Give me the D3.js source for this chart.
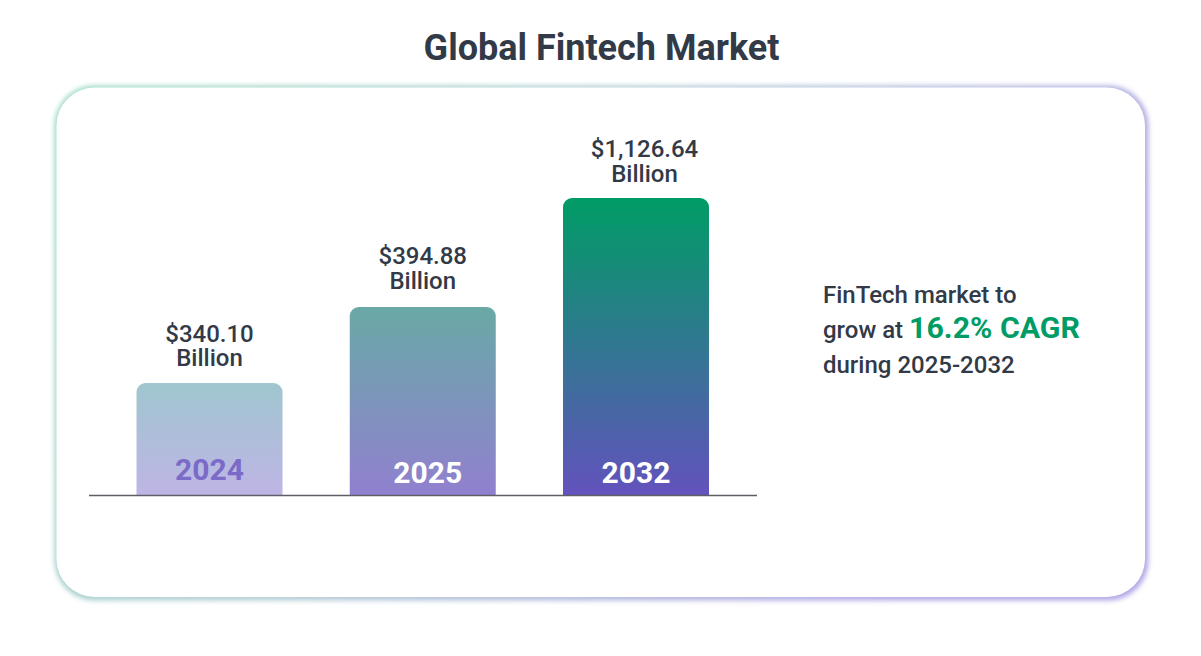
<!DOCTYPE html>
<html>
<head>
<meta charset="utf-8">
<script src="https://cdn.jsdelivr.net/npm/d3@7/dist/d3.min.js"></script>
<style>
html,body{margin:0;padding:0;background:#fff}
svg{display:block}
text{font-family:Roboto,sans-serif}
</style>
</head>
<body>
<svg id="c" width="1201" height="656"></svg>
<script>
const title = "Global Fintech Market";
const years = ["2024", "2025", "2032"];
const values = [340.10, 394.88, 1126.64];
const valueLabels = ["$340.10", "$394.88", "$1,126.64"];
const unitLabel = "Billion";
const topColors = ["#a0c6cf", "#69a9a6", "#009c65"];
const bottomColors = ["#beb5e5", "#9180cf", "#6352bd"];
const yearColors = ["#7a6bc9", "#ffffff", "#ffffff"];

const svg = d3.select("#c");
const defs = svg.append("defs");
const ink = "#323a48";

// card edge gradient + glow
const edge = defs.append("linearGradient").attr("id", "edge")
  .attr("x1", "0").attr("y1", "0").attr("x2", "1").attr("y2", "0.35");
edge.append("stop").attr("offset", "0").attr("stop-color", "#9bdcc2");
edge.append("stop").attr("offset", "0.5").attr("stop-color", "#b4ccd6");
edge.append("stop").attr("offset", "1").attr("stop-color", "#b2a8e6");
const blur = defs.append("filter").attr("id", "glow")
  .attr("x", "-5%").attr("y", "-5%").attr("width", "110%").attr("height", "110%");
blur.append("feGaussianBlur").attr("stdDeviation", 2.4);

svg.append("rect").attr("x", 54.5).attr("y", 85.5).attr("width", 1094).attr("height", 515)
  .attr("rx", 40).attr("fill", "url(#edge)").attr("filter", "url(#glow)");
svg.append("rect").attr("x", 56.5).attr("y", 87.5).attr("width", 1088.5).attr("height", 509.5)
  .attr("rx", 38).attr("fill", "#fff");

// title
svg.append("text").attr("x", 601.5).attr("y", 60).attr("text-anchor", "middle")
  .attr("font-size", 36).attr("font-weight", 700).attr("fill", ink).text(title);

// scales: the source's bars are not drawn to a linear scale, hence the piecewise range
const baseline = 495;
const x = d3.scalePoint().domain(years).range([209.5, 636]);
const y = d3.scaleLinear().domain([0, values[0], values[1], values[2]]).range([baseline, 383, 307, 198]);
const barW = 146, r = 9;

years.forEach((yr, i) => {
  const g = defs.append("linearGradient").attr("id", "bar" + i)
    .attr("x1", 0).attr("y1", 0).attr("x2", 0).attr("y2", 1);
  g.append("stop").attr("offset", 0).attr("stop-color", topColors[i]);
  g.append("stop").attr("offset", 1).attr("stop-color", bottomColors[i]);
});

const barPath = (d, i) => {
  const cx = x(years[i]), l = cx - barW / 2, t = y(d), w = barW;
  const p = d3.path();
  p.moveTo(l, baseline);
  p.lineTo(l, t + r);
  p.arcTo(l, t, l + r, t, r);
  p.lineTo(l + w - r, t);
  p.arcTo(l + w, t, l + w, t + r, r);
  p.lineTo(l + w, baseline);
  p.closePath();
  return p.toString();
};

svg.append("g").selectAll("path").data(values).join("path")
  .attr("d", barPath)
  .attr("fill", (d, i) => `url(#bar${i})`);

// baseline
svg.append("line").attr("x1", 89).attr("x2", 757).attr("y1", baseline + 0.5).attr("y2", baseline + 0.5)
  .attr("stroke", "#5c5f66").attr("stroke-width", 1.3);

// value labels
const labelDx = [0, 0, 8.5];
const labels = svg.append("g").selectAll("g").data(values).join("g");
labels.append("text")
  .attr("x", (d, i) => x(years[i]) + labelDx[i])
  .attr("y", (d, i) => y(d) - [41.5, 43, 41][i])
  .attr("text-anchor", "middle").attr("font-size", 24).attr("font-weight", 500)
  .attr("fill", ink).text((d, i) => valueLabels[i]);
labels.append("text")
  .attr("x", (d, i) => x(years[i]) + labelDx[i])
  .attr("y", (d, i) => y(d) - [17, 18, 16][i])
  .attr("text-anchor", "middle").attr("font-size", 24).attr("font-weight", 500)
  .attr("fill", ink).text(unitLabel);

// year labels
const yearDx = [0, 5, 0];
const yearY = [480, 483, 483];
svg.append("g").selectAll("text").data(years).join("text")
  .attr("x", (d, i) => x(d) + yearDx[i])
  .attr("y", (d, i) => yearY[i])
  .attr("text-anchor", "middle").attr("font-size", 30).attr("font-weight", 700)
  .attr("fill", (d, i) => yearColors[i]).text(d => d);

// callout
const callout = svg.append("g").attr("fill", ink).attr("font-size", 24).attr("font-weight", 500);
callout.append("text").attr("x", 823).attr("y", 303).text("FinTech market to");
const mid = callout.append("text").attr("x", 823).attr("y", 338);
mid.append("tspan").text("grow at ");
mid.append("tspan").attr("font-size", 30.3).attr("font-weight", 700).attr("fill", "#009c65").text("16.2% CAGR");
callout.append("text").attr("x", 823).attr("y", 373).text("during 2025-2032");
</script>
</body>
</html>
